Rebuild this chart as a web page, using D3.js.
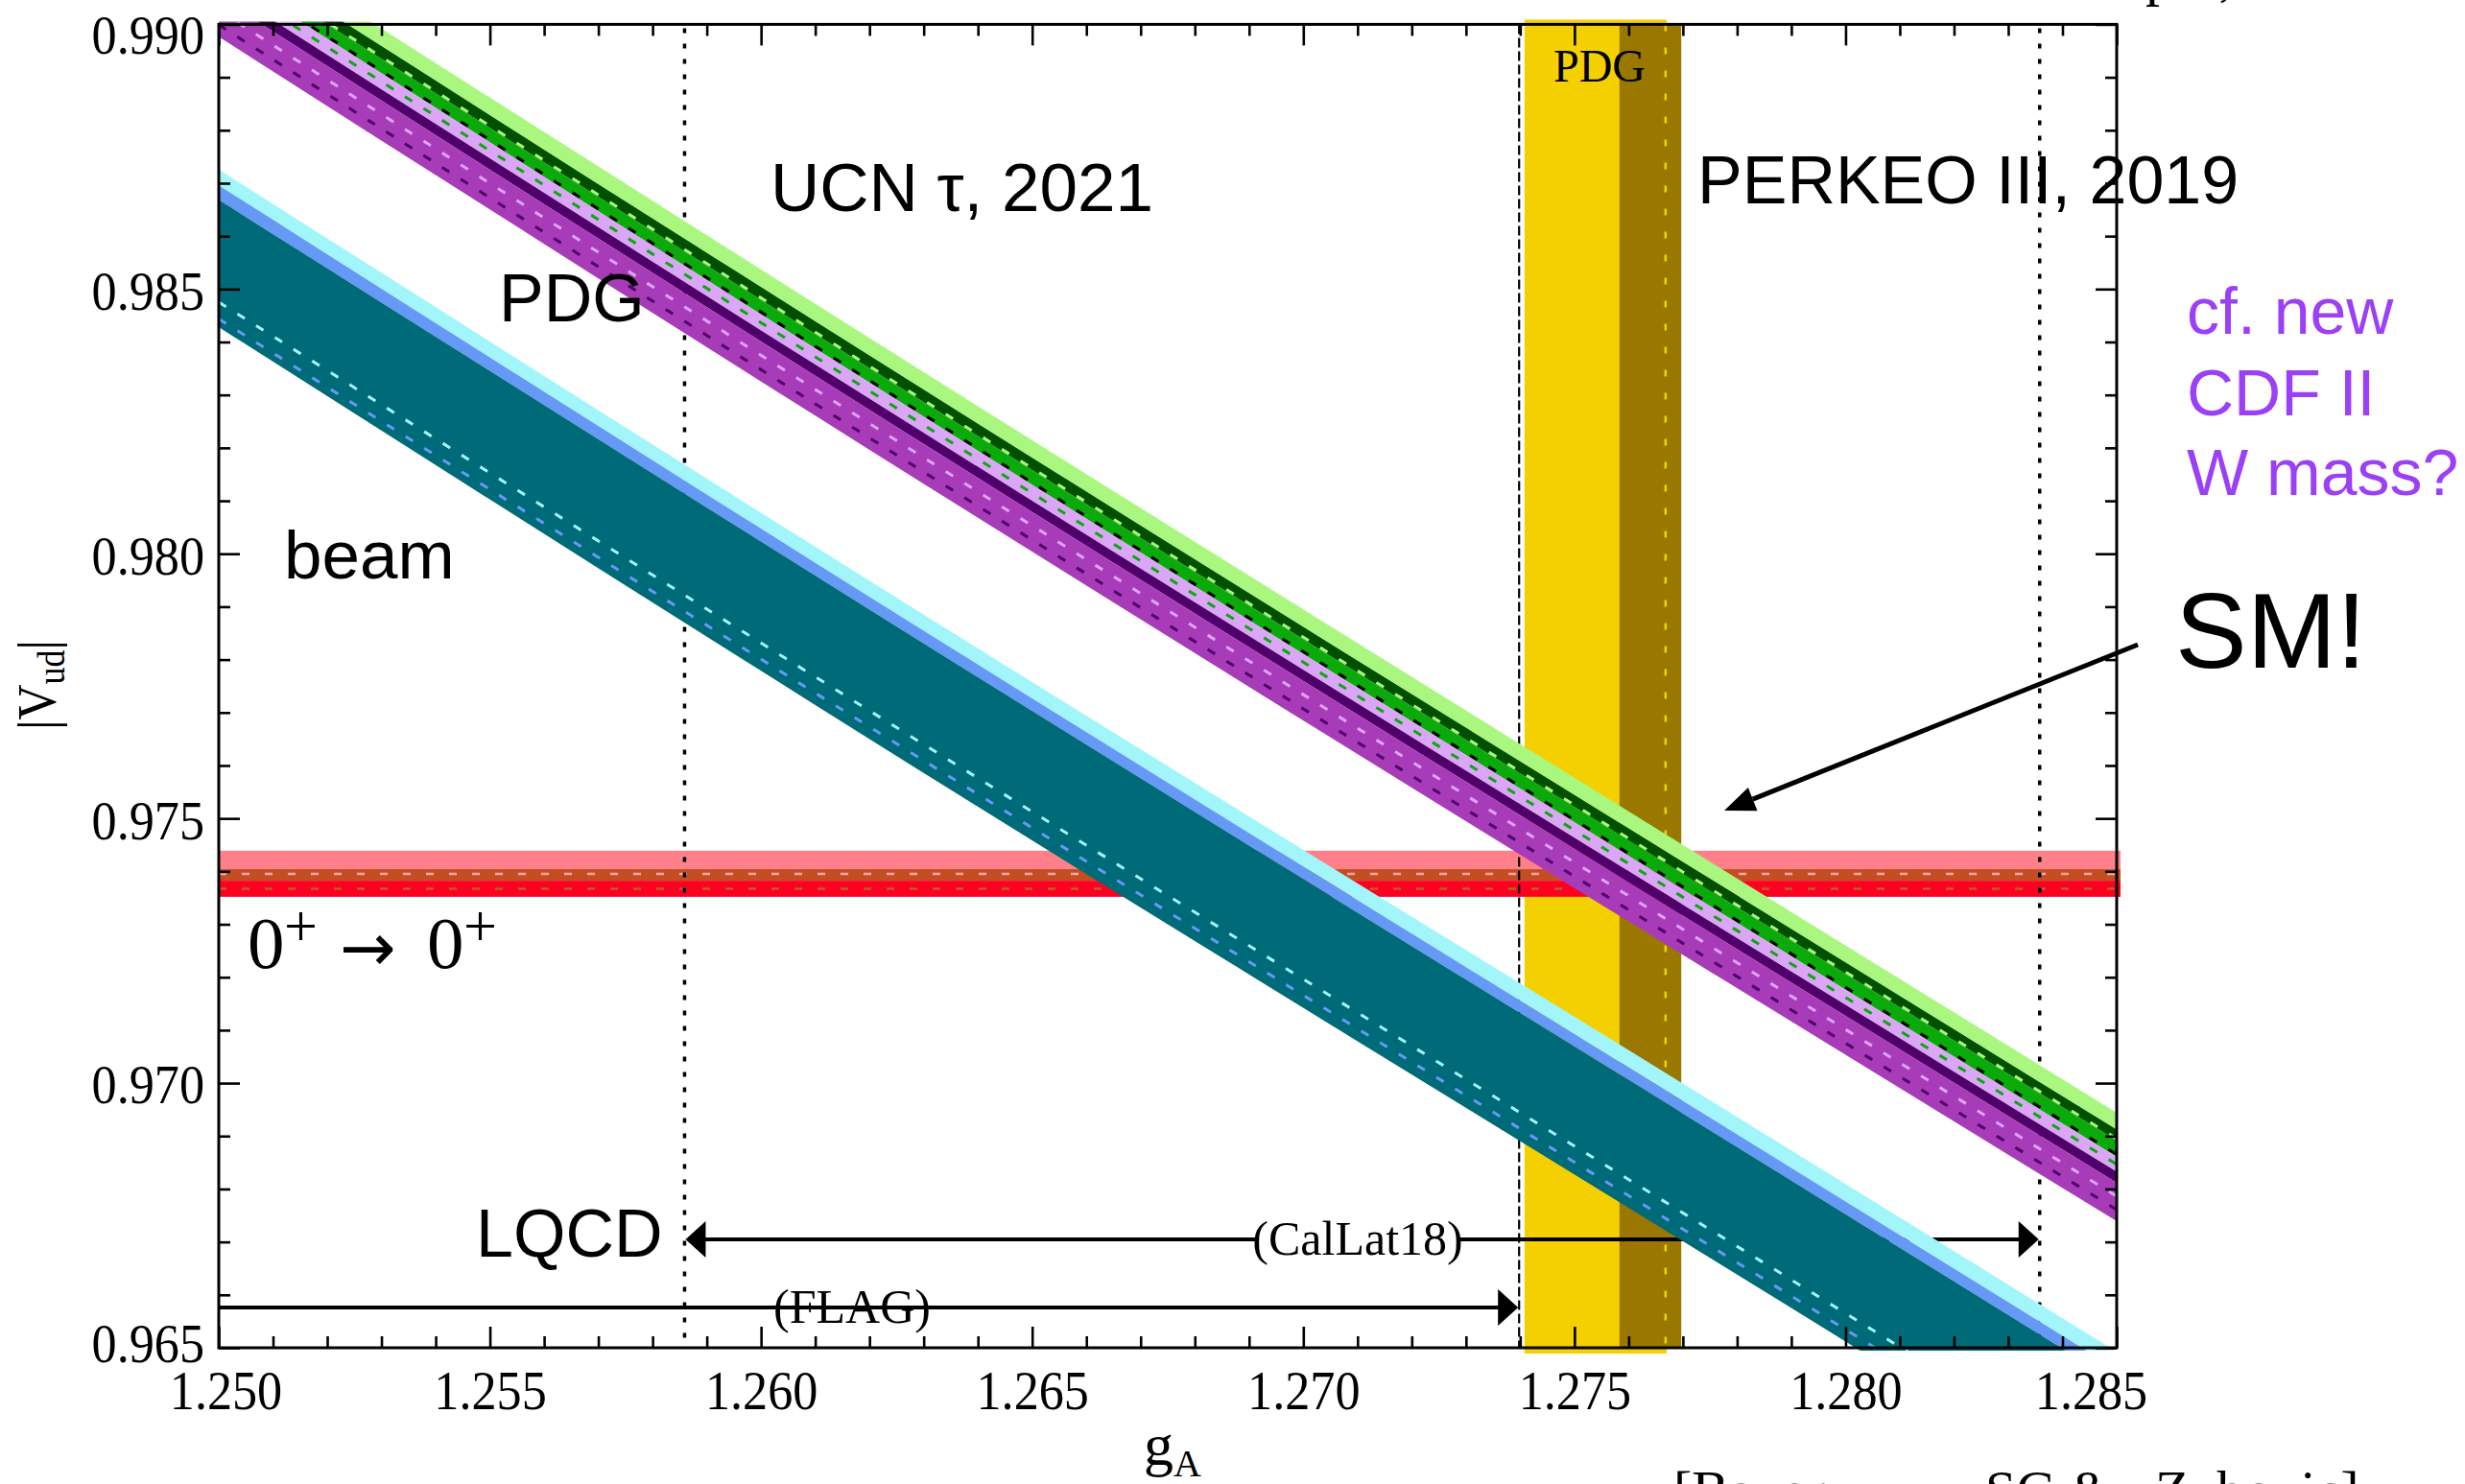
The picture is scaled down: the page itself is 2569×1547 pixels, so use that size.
<!DOCTYPE html>
<html><head><meta charset="utf-8">
<script src="https://cdn.jsdelivr.net/npm/d3@7"></script>
<style>html,body{margin:0;padding:0;background:#fff}svg{display:block}</style>
</head><body>
<svg id="c" width="2569" height="1547"></svg>
<script>
// ---------------- data ----------------
const xTickValues = [1.250, 1.255, 1.260, 1.265, 1.270, 1.275, 1.280, 1.285];
const xTickLabels = ["1.250", "1.255", "1.260", "1.265", "1.270", "1.275", "1.280", "1.285"];
const yTickValues = [0.965, 0.970, 0.975, 0.980, 0.985, 0.990];
const yTickLabels = ["0.965", "0.970", "0.975", "0.980", "0.985", "0.990"];

// neutron lifetime bands: |Vud| along g_A
const topGA = [1.250, 1.261, 1.285];
const ucnLightGreenTop = [0.991879, 0.984721, 0.969440];
const ucnDarkGreenTop  = [0.991548, 0.984390, 0.969122];
const ucnGreenTop      = [0.991307, 0.984149, 0.968914];
const pdgLightPurpleTop = [0.991035, 0.983877, 0.968606];
const pdgDarkPurpleTop  = [0.990732, 0.983574, 0.968325];
const pdgPurpleTop      = [0.990520, 0.983362, 0.968117];
const pdgPurpleBottom   = [0.989766, 0.982608, 0.967392];
const ucnLightDash = [0.991345, 0.984187, 0.968950];
const ucnBlackDash = [0.991077, 0.983919, 0.968652];
const ucnGreenDash = [0.990877, 0.983719, 0.968465];
const pdgPinkDash  = [0.990261, 0.983103, 0.967863];
const pdgDarkDash  = [0.989989, 0.982831, 0.967609];

const beamGA = [1.250, 1.261, 1.2805, 1.285];
const beamCyanTop    = [0.987258, 0.980131, 0.967778, 0.964924];
const beamBlueTop    = [0.986957, 0.979829, 0.967446, 0.964592];
const beamTealTop    = [0.986686, 0.979588, 0.967205, 0.964351];
const beamTealBottom = [0.984281, 0.977141, 0.964801, 0.961947];
const beamCyanDash   = [0.984752, 0.977674, 0.965334, 0.962480];
const beamBlueDash   = [0.984435, 0.977368, 0.965028, 0.962174];

// superallowed 0+ -> 0+ bands (|Vud|)
const sfOuter = [0.97352, 0.97439];
const sfInner = [0.97382, 0.97404];
const sfOuterCenter = 0.97395;
const sfNew = [0.97352, 0.97382];
const sfNewCenter = 0.97367;

// g_A bands
const pdgGA = [1.27408, 1.27670];
const perkeoGA = [1.27583, 1.27697];
const pdgGAdash = 1.27668;

// LQCD ranges
const flagRange = [1.250, 1.27398];
const flagV = 0.965761;
const calLatRange = [1.25859, 1.28358];
const calLatV = 0.967047;

// SM arrow (data coords)
const smArrowFrom = [1.28539, 0.978283];
const smArrowTo = [1.277763, 0.975148];

// ---------------- drawing ----------------
const SERIF = "'Liberation Serif','Times New Roman',Times,serif";
const SANS = "'Liberation Sans',Arial,Helvetica,sans-serif";
const L = 228, R = 2206, T = 25.4, B = 1405;
const svg = d3.select("#c");
const x = d3.scaleLinear().domain([1.250, 1.285]).range([L, R]);
const y = d3.scaleLinear().domain([0.965, 0.990]).range([B, T]);

const defs = svg.append("defs");
defs.append("clipPath").attr("id", "plot").append("rect")
  .attr("x", L).attr("y", T - 3).attr("width", R - L + 4).attr("height", B - T + 6);

// g_A columns
const gCols = svg.append("g");
gCols.append("rect").attr("x", x(pdgGA[0])).attr("width", x(pdgGA[1]) - x(pdgGA[0]))
  .attr("y", T - 5).attr("height", B - T + 11).attr("fill", "#f5d000");
gCols.append("rect").attr("x", x(perkeoGA[0])).attr("width", x(perkeoGA[1]) - x(perkeoGA[0]))
  .attr("y", T).attr("height", B - T).attr("fill", "#9a7800");
gCols.append("line").attr("x1", x(pdgGAdash)).attr("x2", x(pdgGAdash)).attr("y1", T).attr("y2", B)
  .attr("stroke", "#f5d000").attr("stroke-width", 2.5).attr("stroke-dasharray", "7,17");

// superallowed bands
const gSF = svg.append("g").attr("clip-path", "url(#plot)");
function hband(g, lohi, color) {
  g.append("rect").attr("x", L).attr("width", R - L + 5)
    .attr("y", y(lohi[1])).attr("height", y(lohi[0]) - y(lohi[1])).attr("fill", color);
}
hband(gSF, sfOuter, "#ff8088");
hband(gSF, sfInner, "#c24e22");
hband(gSF, sfNew, "#ff0020");
function hdash(g, v, color) {
  g.append("line").attr("x1", L).attr("x2", R + 5).attr("y1", y(v)).attr("y2", y(v))
    .attr("stroke", color).attr("stroke-width", 2.5).attr("stroke-dasharray", "8,16");
}
hdash(gSF, sfOuterCenter, "#ffa4aa");
hdash(gSF, sfNewCenter, "#b8602a");

// vertical reference lines
const gV = svg.append("g");
gV.append("line").attr("x1", x(flagRange[1])).attr("x2", x(flagRange[1])).attr("y1", T).attr("y2", B)
  .attr("stroke", "#000").attr("stroke-width", 2.2).attr("stroke-dasharray", "10,4");
calLatRange.forEach(v => {
  gV.append("line").attr("x1", x(v)).attr("x2", x(v)).attr("y1", T + 4).attr("y2", B)
    .attr("stroke", "#000").attr("stroke-width", 3.5).attr("stroke-dasharray", "5,11");
});

// arrows for LQCD ranges
const gA_ = svg.append("g");
function head(g, tipX, tipY, dir, len, half) {
  g.append("path").attr("d", `M${tipX},${tipY} L${tipX - dir * len},${tipY - half} L${tipX - dir * len},${tipY + half} Z`)
    .attr("fill", "#000");
}
function rangeLabel(txt, cx, yy) {
  const t = gA_.append("text").attr("x", cx).attr("y", yy + 16).attr("text-anchor", "middle")
    .attr("font-family", SERIF).attr("font-size", 50).text(txt);
  const bb = t.node().getBBox();
  gA_.insert("rect", "text").attr("x", bb.x + 4).attr("y", yy - 6).attr("width", bb.width - 8)
    .attr("height", 12).attr("fill", "#fff");
}
// CalLat18: double-headed
{
  const yy = y(calLatV), x0 = x(calLatRange[0]), x1 = x(calLatRange[1]);
  gA_.append("line").attr("x1", x0 + 10).attr("x2", x1 - 10).attr("y1", yy).attr("y2", yy)
    .attr("stroke", "#000").attr("stroke-width", 4);
  head(gA_, x0 + 1, yy, -1, 21, 19);
  head(gA_, x1 - 1, yy, 1, 21, 19);
  rangeLabel("(CalLat18)", 1415, yy);
}
// FLAG: single-headed to the right
{
  const yy = y(flagV), x0 = x(flagRange[0]), x1 = x(flagRange[1]);
  gA_.append("line").attr("x1", x0).attr("x2", x1 - 10).attr("y1", yy).attr("y2", yy)
    .attr("stroke", "#000").attr("stroke-width", 4);
  head(gA_, x1 - 1, yy, 1, 21, 19);
  rangeLabel("(FLAG)", 888, yy);
}

// diagonal lifetime bands
const gD = svg.append("g").attr("clip-path", "url(#plot)");
function stripe(gas, hi, lo, color) {
  const pts = gas.map((g, i) => ({ g, hi: hi[i], lo: lo[i] }));
  const area = d3.area().x(d => x(d.g)).y0(d => y(d.lo)).y1(d => y(d.hi)).curve(d3.curveMonotoneX);
  gD.append("path").attr("d", area(pts)).attr("fill", color);
}
function dash(gas, vals, color) {
  const pts = gas.map((g, i) => ({ g, v: vals[i] }));
  const line = d3.line().x(d => x(d.g)).y(d => y(d.v)).curve(d3.curveMonotoneX);
  gD.append("path").attr("d", line(pts)).attr("fill", "none").attr("stroke", color)
    .attr("stroke-width", 3).attr("stroke-dasharray", "9,14");
}
// beam
stripe(beamGA, beamCyanTop, beamBlueTop, "#a2f5f8");
stripe(beamGA, beamBlueTop, beamTealTop, "#6699f5");
stripe(beamGA, beamTealTop, beamTealBottom, "#006b78");
dash(beamGA, beamCyanDash, "#a2f5f8");
dash(beamGA, beamBlueDash, "#6699f5");
// PDG + UCN tau
stripe(topGA, ucnLightGreenTop, ucnDarkGreenTop, "#aaf77f");
stripe(topGA, ucnDarkGreenTop, ucnGreenTop, "#005000");
stripe(topGA, ucnGreenTop, pdgLightPurpleTop, "#0aaa0a");
stripe(topGA, pdgLightPurpleTop, pdgDarkPurpleTop, "#dba6f7");
stripe(topGA, pdgDarkPurpleTop, pdgPurpleTop, "#50006a");
stripe(topGA, pdgPurpleTop, pdgPurpleBottom, "#a83cb8");
dash(topGA, ucnLightDash, "#aaf77f");
dash(topGA, ucnBlackDash, "#000000");
dash(topGA, ucnGreenDash, "#0aaa0a");
dash(topGA, pdgPinkDash, "#dba6f7");
dash(topGA, pdgDarkDash, "#50006a");

// ---------------- axes ----------------
const gAx = svg.append("g");
const minorX = d3.range(0, 36).map(i => 1.250 + i * 0.001).filter((v, i) => i % 5 !== 0);
const minorY = d3.range(0, 26).map(i => 0.965 + i * 0.001).filter((v, i) => i % 5 !== 0);
function ticks(axisGen, tr) {
  const g = gAx.append("g").attr("transform", tr).call(axisGen);
  g.select(".domain").remove();
  g.selectAll(".tick line").attr("stroke", "#000").attr("stroke-width", 2.6);
  return g;
}
const SX = 0.9; // condensed tick labels
const bx = ticks(d3.axisBottom(x).tickValues(xTickValues).tickSizeInner(-22).tickSizeOuter(0)
  .tickFormat((d, i) => xTickLabels[i]), `translate(0,${B})`);
bx.selectAll("text").attr("font-family", SERIF).attr("font-size", 58).attr("fill", "#000")
  .attr("y", 64).attr("dy", 0).attr("transform", `scale(${SX},1)`)
  .attr("x", (d, i) => (i === 0 ? 7 : (i === xTickValues.length - 1 ? -27 : 0)) / SX);
ticks(d3.axisBottom(x).tickValues(minorX).tickSizeInner(-12).tickSizeOuter(0).tickFormat(""), `translate(0,${B})`);
ticks(d3.axisTop(x).tickValues(xTickValues).tickSizeInner(-22).tickSizeOuter(0).tickFormat(""), `translate(0,${T})`);
ticks(d3.axisTop(x).tickValues(minorX).tickSizeInner(-12).tickSizeOuter(0).tickFormat(""), `translate(0,${T})`);
const ly = ticks(d3.axisLeft(y).tickValues(yTickValues).tickSizeInner(-22).tickSizeOuter(0)
  .tickFormat((d, i) => yTickLabels[i]), `translate(${L},0)`);
ly.selectAll("text").attr("font-family", SERIF).attr("font-size", 58).attr("fill", "#000")
  .attr("x", -15 / SX).attr("dy", "0.36em").attr("transform", `scale(${SX},1)`)
  .attr("y", (d, i) => i === 0 ? -6 : (i === yTickValues.length - 1 ? 9 : 0));
ticks(d3.axisLeft(y).tickValues(minorY).tickSizeInner(-12).tickSizeOuter(0).tickFormat(""), `translate(${L},0)`);
ticks(d3.axisRight(y).tickValues(yTickValues).tickSizeInner(-22).tickSizeOuter(0).tickFormat(""), `translate(${R},0)`);
ticks(d3.axisRight(y).tickValues(minorY).tickSizeInner(-12).tickSizeOuter(0).tickFormat(""), `translate(${R},0)`);
gAx.append("rect").attr("x", L).attr("y", T).attr("width", R - L).attr("height", B - T)
  .attr("fill", "none").attr("stroke", "#000").attr("stroke-width", 3);

// axis titles
const xt = svg.append("text").attr("x", 1192).attr("y", 1527).attr("font-family", SERIF).attr("font-size", 62);
xt.append("tspan").text("g");
xt.append("tspan").attr("font-size", 40).attr("dy", 12).text("A");
const yt = svg.append("text").attr("transform", "translate(58,714) rotate(-90) scale(0.9,1)")
  .attr("text-anchor", "middle").attr("font-family", SERIF).attr("font-size", 57);
yt.append("tspan").text("|V");
yt.append("tspan").attr("font-size", 40).attr("dy", 9).text("ud");
yt.append("tspan").attr("dy", -9).text("|");

// ---------------- annotations ----------------
const ann = svg.append("g");
function label(txt, px, py, size, fam, color) {
  return ann.append("text").attr("x", px).attr("y", py).attr("font-size", size)
    .attr("font-family", fam).attr("fill", color || "#000").text(txt);
}
label("UCN \u03c4, 2021", 803, 220, 71, SANS);
label("PERKEO III, 2019", 1769, 212, 70, SANS);
label("PDG", 520, 335, 70, SANS);
label("beam", 296, 603, 71, SANS);
label("LQCD", 496, 1310, 70, SANS);
label("SM!", 2267, 696, 112, SANS);
label("cf. new", 2279, 348, 68, SANS, "#9b40f7");
label("CDF II", 2279, 433, 68, SANS, "#9b40f7");
label("W mass?", 2279, 516, 68, SANS, "#9b40f7");
label("PDG", 1619, 85, 48, SERIF);
// 0+ -> 0+
label("0", 258, 1009, 77, SERIF);
label("+", 296, 986, 62, SERIF);
label("\u2192", 354, 1012, 70, "'DejaVu Sans',sans-serif");
label("0", 445, 1009, 77, SERIF);
label("+", 483, 986, 62, SERIF);

// SM arrow
{
  const x0 = x(smArrowFrom[0]), y0 = y(smArrowFrom[1]);
  const x1 = x(smArrowTo[0]), y1 = y(smArrowTo[1]);
  const ang = Math.atan2(y1 - y0, x1 - x0);
  const len = 32, half = 13;
  const bxp = x1 - len * Math.cos(ang), byp = y1 - len * Math.sin(ang);
  ann.append("line").attr("x1", x0).attr("y1", y0).attr("x2", bxp).attr("y2", byp)
    .attr("stroke", "#000").attr("stroke-width", 5);
  const nx = -Math.sin(ang), ny = Math.cos(ang);
  ann.append("path").attr("d", `M${x1},${y1} L${bxp + nx * half},${byp + ny * half} L${bxp - nx * half},${byp - ny * half} Z`)
    .attr("fill", "#000");
}

// partially cut texts at the page edges (as in the source slide)
label("[Bauer,", 1744, 1573, 58, SERIF);
label("SG &", 2069, 1573, 58, SERIF);
label("Zubovic]", 2246, 1573, 58, SERIF);
label("pre,", 2236, -6, 60, SERIF);
</script>
</body></html>
